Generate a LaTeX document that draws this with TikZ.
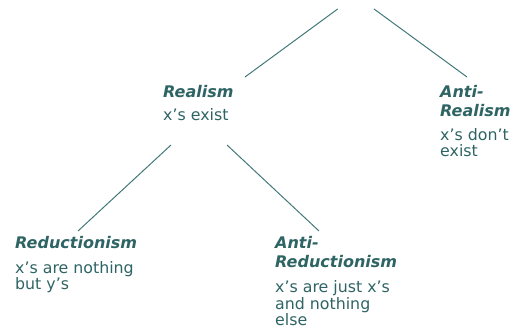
\documentclass[tikz,border=0pt]{standalone}
\usepackage{fontspec}
\setmainfont{DejaVu Sans}
\usetikzlibrary{calc}
\definecolor{tealtext}{HTML}{2F6464}
\definecolor{tealline}{HTML}{437878}
\tikzset{
	head/.style={anchor=base west, inner sep=0pt, align=left, text=tealtext, font=\fontsize{16}{19}\selectfont\bfseries\itshape},
	body/.style={anchor=base west, inner sep=0pt, align=left, text=tealtext, font=\fontsize{15.8}{16.5}\selectfont},
	branch/.style={line width=1pt, color=tealline}
}

\begin{document}
\begin{tikzpicture}[x=1pt, y=-1pt]
			%%%%% START %%%%%
			
			\useasboundingbox (0, 0) rectangle (512, 336);
			
			\coordinate (rootl) at (337.7, 9);
			\coordinate (rootr) at (374, 9);
			
			% base west sits on the last line of each text
			\node[head] (real) at (163, 98) {Realism};
			\node[body] (realtxt) at (163, 121) {x's exist};
			
			\node[head] (anti) at (440, 117) {Anti-\\Realism};
			\node[body] (antitxt) at (440, 157) {x's don't\\exist};
			
			\node[head] (red) at (15, 249) {Reductionism};
			\node[body] (redtxt) at (15, 290) {x's are nothing\\but y's};
			
			\node[head] (antired) at (275, 268) {Anti-\\Reductionism};
			\node[body] (antiredtxt) at (275, 326) {x's are just x's\\and nothing\\else};
			
			\draw[branch] (rootl) -- ($(real.base west)+(82, -21)$);
			\draw[branch] (rootr) -- ($(anti.base west)+(27, -40)$);
			
			\draw[branch] ($(realtxt.base west)+(8, 24)$) -- ($(red.base west)+(63, -18)$);
			\draw[branch] ($(realtxt.base west)+(64, 24)$) -- ($(antired.base west)+(44, -37)$);
			
			%%%%% END %%%%%
\end{tikzpicture}
\end{document}
